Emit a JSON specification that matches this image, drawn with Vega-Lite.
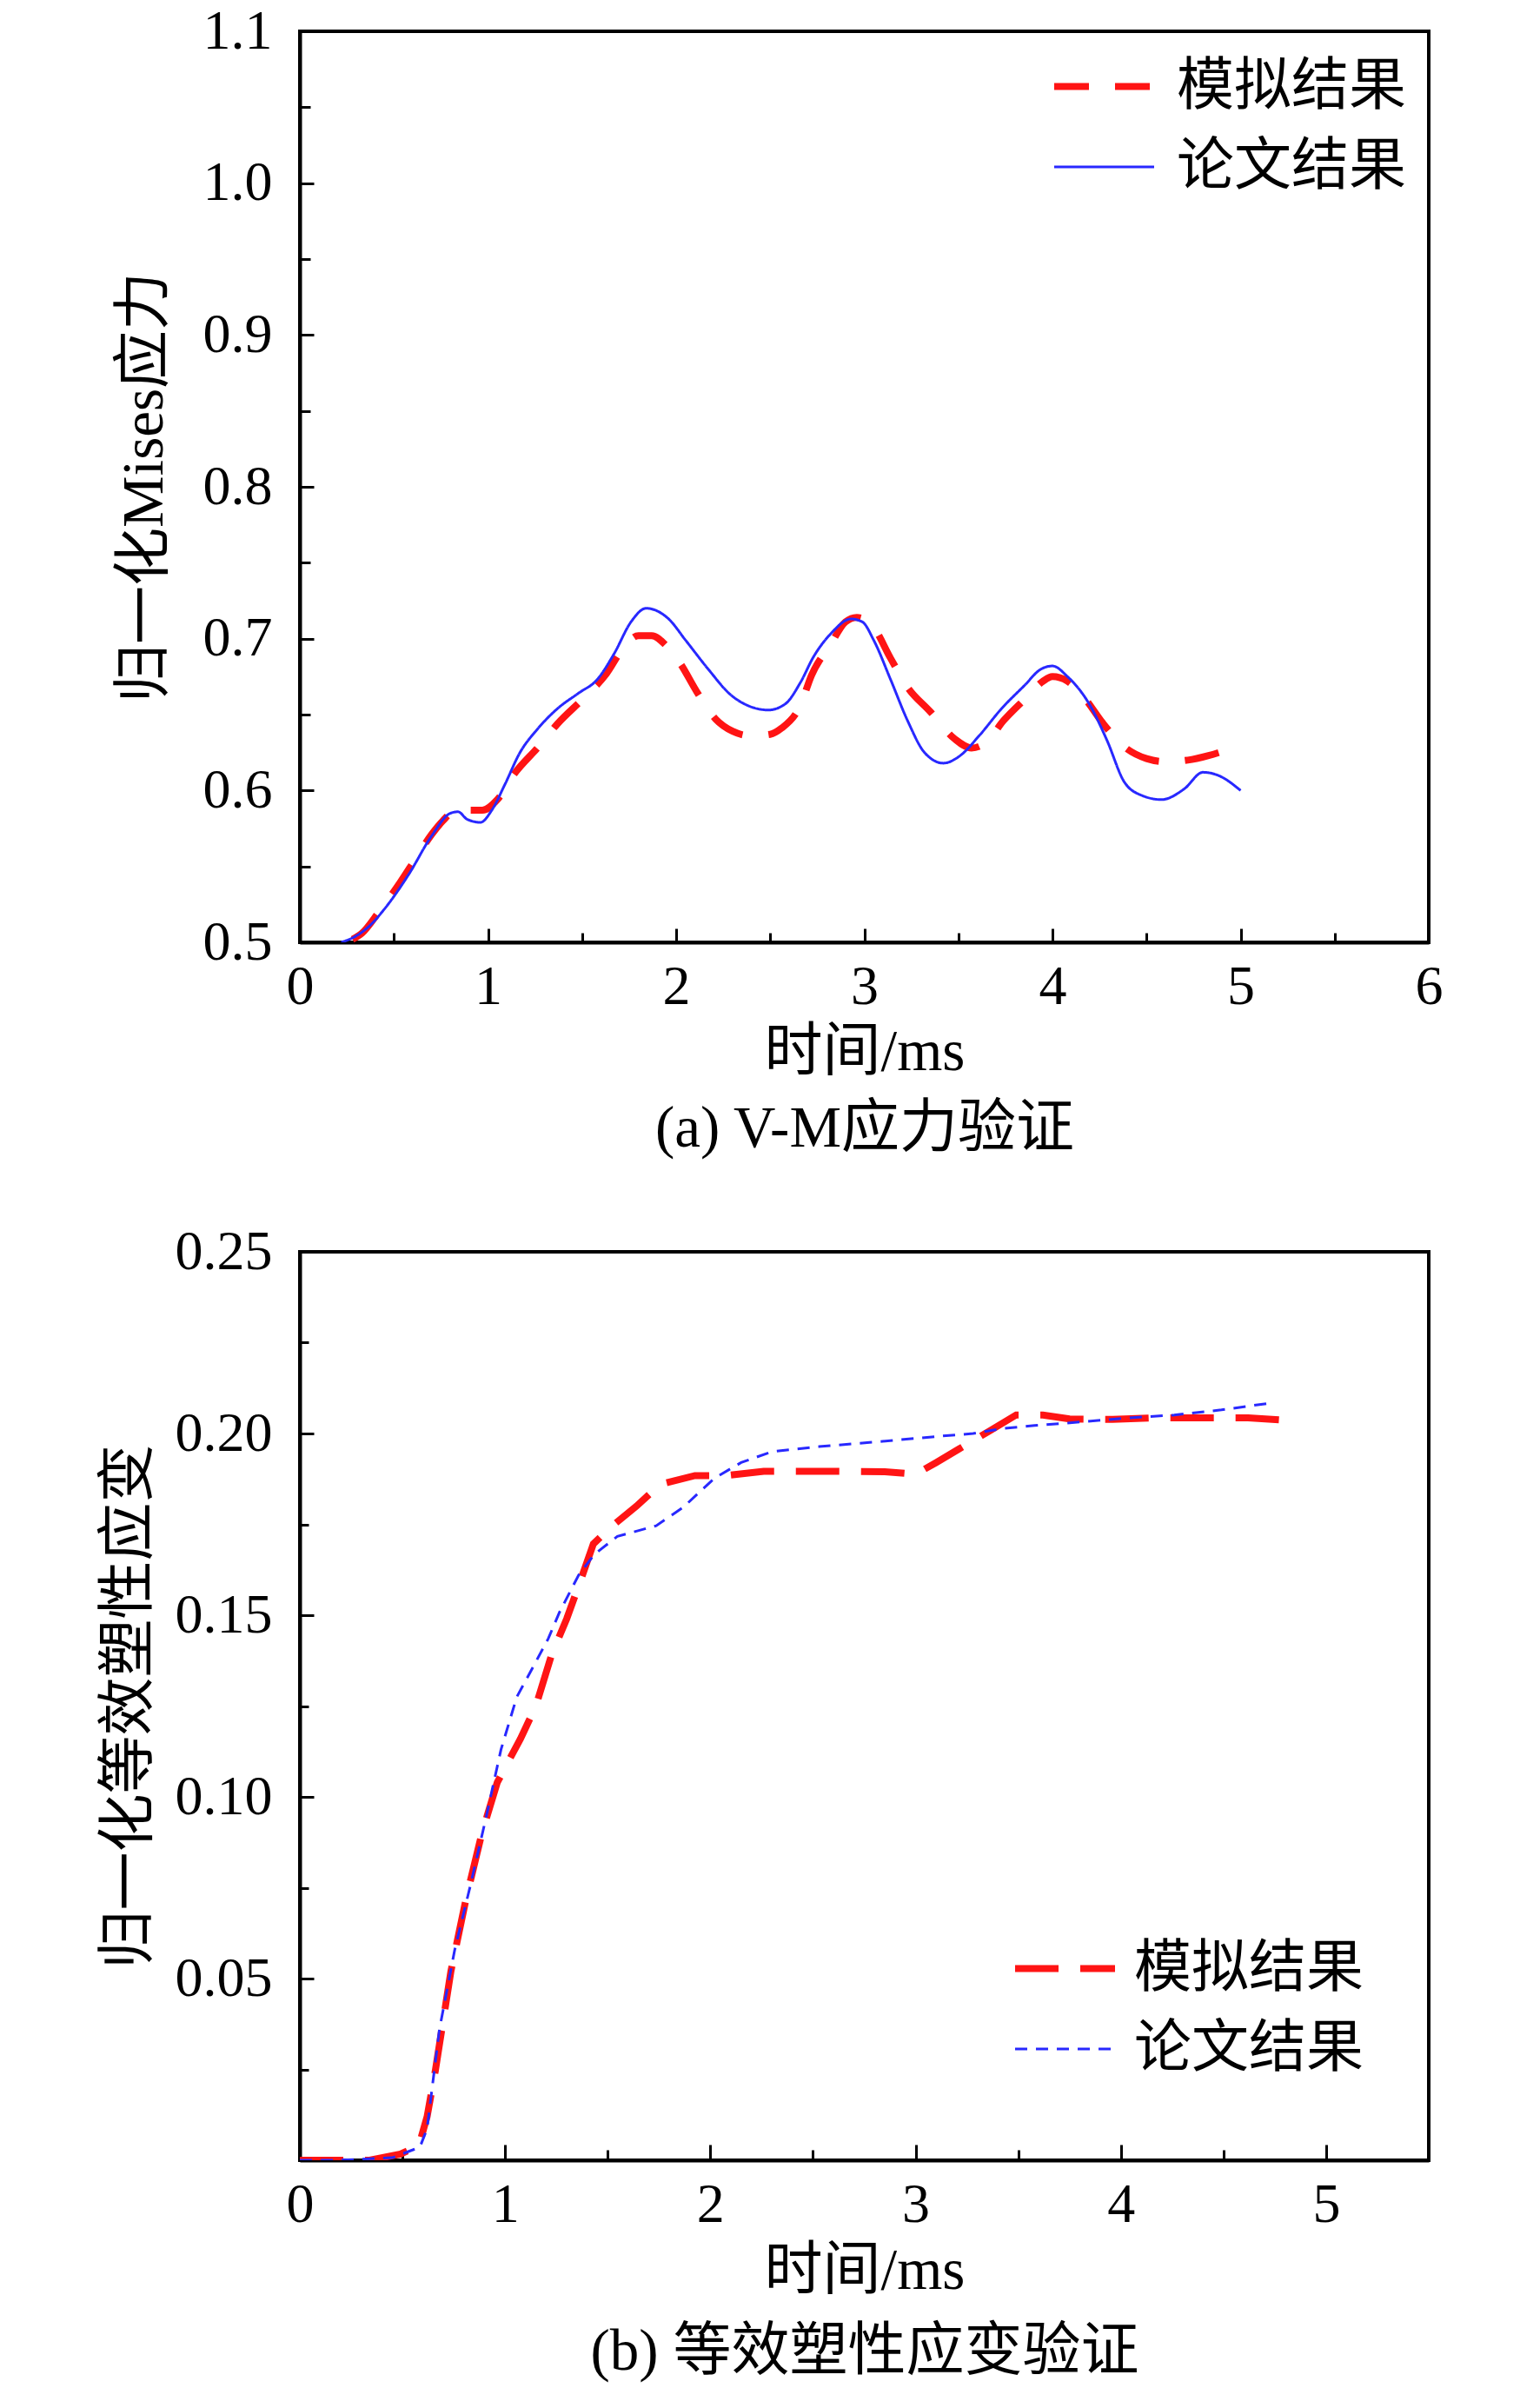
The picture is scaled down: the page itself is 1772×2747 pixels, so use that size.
{
  "$schema": "https://vega.github.io/schema/vega-lite/v6.json",
  "background": "white",
  "padding": {"left": 111, "top": 2, "right": 10, "bottom": 5},
  "config": {
    "view": {"stroke": "black", "strokeWidth": 4},
    "axis": {
      "domainColor": "black", "domainWidth": 4, "tickColor": "black", "tickWidth": 3,
      "grid": false, "labelFont": "Liberation Serif", "labelFontSize": 64, "labelColor": "black",
      "titleFont": "Liberation Serif, Noto Sans CJK SC", "titleFontSize": 67, "titleFontWeight": "normal",
      "titleColor": "black", "labelFlush": false, "labelOverlap": false
    },
    "legend": {
      "orient": "none", "symbolType": "stroke", "symbolSize": 13225, "labelFont": "Liberation Serif, Noto Sans CJK SC",
      "labelFontSize": 66, "labelColor": "black", "labelLimit": 500, "padding": 0, "title": null
    }
  },
  "datasets": {
    "vm": [
      {"t":0.28,"v":0.502,"s":"模拟结果"},{"t":0.33,"v":0.506,"s":"模拟结果"},{"t":0.42,"v":0.52,"s":"模拟结果"},{"t":0.52,"v":0.537,"s":"模拟结果"},
      {"t":0.62,"v":0.556,"s":"模拟结果"},{"t":0.70,"v":0.571,"s":"模拟结果"},{"t":0.76,"v":0.58,"s":"模拟结果"},{"t":0.84,"v":0.588,"s":"模拟结果"},
      {"t":0.90,"v":0.587,"s":"模拟结果"},{"t":0.97,"v":0.587,"s":"模拟结果"},{"t":1.05,"v":0.594,"s":"模拟结果"},{"t":1.14,"v":0.611,"s":"模拟结果"},
      {"t":1.27,"v":0.629,"s":"模拟结果"},{"t":1.37,"v":0.644,"s":"模拟结果"},{"t":1.51,"v":0.661,"s":"模拟结果"},{"t":1.63,"v":0.677,"s":"模拟结果"},
      {"t":1.72,"v":0.694,"s":"模拟结果"},{"t":1.80,"v":0.702,"s":"模拟结果"},{"t":1.87,"v":0.702,"s":"模拟结果"},{"t":1.95,"v":0.695,"s":"模拟结果"},
      {"t":2.02,"v":0.684,"s":"模拟结果"},{"t":2.11,"v":0.665,"s":"模拟结果"},{"t":2.21,"v":0.647,"s":"模拟结果"},{"t":2.30,"v":0.639,"s":"模拟结果"},
      {"t":2.40,"v":0.636,"s":"模拟结果"},{"t":2.50,"v":0.637,"s":"模拟结果"},{"t":2.56,"v":0.641,"s":"模拟结果"},{"t":2.66,"v":0.656,"s":"模拟结果"},
      {"t":2.72,"v":0.676,"s":"模拟结果"},{"t":2.82,"v":0.696,"s":"模拟结果"},{"t":2.90,"v":0.711,"s":"模拟结果"},{"t":2.96,"v":0.714,"s":"模拟结果"},
      {"t":3.04,"v":0.709,"s":"模拟结果"},{"t":3.14,"v":0.687,"s":"模拟结果"},{"t":3.23,"v":0.668,"s":"模拟结果"},{"t":3.35,"v":0.652,"s":"模拟结果"},
      {"t":3.48,"v":0.634,"s":"模拟结果"},{"t":3.57,"v":0.628,"s":"模拟结果"},{"t":3.65,"v":0.632,"s":"模拟结果"},{"t":3.74,"v":0.646,"s":"模拟结果"},
      {"t":3.86,"v":0.661,"s":"模拟结果"},{"t":3.95,"v":0.672,"s":"模拟结果"},{"t":4.00,"v":0.675,"s":"模拟结果"},{"t":4.08,"v":0.672,"s":"模拟结果"},
      {"t":4.17,"v":0.661,"s":"模拟结果"},{"t":4.27,"v":0.644,"s":"模拟结果"},{"t":4.37,"v":0.630,"s":"模拟结果"},{"t":4.50,"v":0.621,"s":"模拟结果"},
      {"t":4.60,"v":0.619,"s":"模拟结果"},{"t":4.72,"v":0.620,"s":"模拟结果"},{"t":4.83,"v":0.623,"s":"模拟结果"},{"t":4.91,"v":0.626,"s":"模拟结果"},
      {"t":0.22,"v":0.500,"s":"论文结果"},{"t":0.31,"v":0.505,"s":"论文结果"},{"t":0.38,"v":0.512,"s":"论文结果"},{"t":0.45,"v":0.522,"s":"论文结果"},
      {"t":0.58,"v":0.545,"s":"论文结果"},{"t":0.70,"v":0.570,"s":"论文结果"},{"t":0.80,"v":0.585,"s":"论文结果"},{"t":0.84,"v":0.586,"s":"论文结果"},
      {"t":0.89,"v":0.581,"s":"论文结果"},{"t":0.96,"v":0.579,"s":"论文结果"},{"t":1.02,"v":0.587,"s":"论文结果"},{"t":1.09,"v":0.604,"s":"论文结果"},
      {"t":1.17,"v":0.625,"s":"论文结果"},{"t":1.26,"v":0.640,"s":"论文结果"},{"t":1.37,"v":0.654,"s":"论文结果"},{"t":1.48,"v":0.664,"s":"论文结果"},
      {"t":1.58,"v":0.673,"s":"论文结果"},{"t":1.67,"v":0.690,"s":"论文结果"},{"t":1.76,"v":0.711,"s":"论文结果"},{"t":1.84,"v":0.720,"s":"论文结果"},
      {"t":1.96,"v":0.713,"s":"论文结果"},{"t":2.05,"v":0.699,"s":"论文结果"},{"t":2.17,"v":0.680,"s":"论文结果"},{"t":2.29,"v":0.663,"s":"论文结果"},
      {"t":2.38,"v":0.656,"s":"论文结果"},{"t":2.49,"v":0.653,"s":"论文结果"},{"t":2.58,"v":0.657,"s":"论文结果"},{"t":2.66,"v":0.671,"s":"论文结果"},
      {"t":2.73,"v":0.688,"s":"论文结果"},{"t":2.82,"v":0.703,"s":"论文结果"},{"t":2.93,"v":0.713,"s":"论文结果"},{"t":2.99,"v":0.711,"s":"论文结果"},
      {"t":3.05,"v":0.699,"s":"论文结果"},{"t":3.14,"v":0.673,"s":"论文结果"},{"t":3.23,"v":0.646,"s":"论文结果"},{"t":3.32,"v":0.625,"s":"论文结果"},
      {"t":3.42,"v":0.618,"s":"论文结果"},{"t":3.51,"v":0.623,"s":"论文结果"},{"t":3.61,"v":0.636,"s":"论文结果"},{"t":3.73,"v":0.654,"s":"论文结果"},
      {"t":3.85,"v":0.669,"s":"论文结果"},{"t":3.94,"v":0.680,"s":"论文结果"},{"t":4.00,"v":0.682,"s":"论文结果"},{"t":4.08,"v":0.675,"s":"论文结果"},
      {"t":4.20,"v":0.656,"s":"论文结果"},{"t":4.29,"v":0.633,"s":"论文结果"},{"t":4.38,"v":0.606,"s":"论文结果"},{"t":4.47,"v":0.597,"s":"论文结果"},
      {"t":4.58,"v":0.594,"s":"论文结果"},{"t":4.70,"v":0.601,"s":"论文结果"},{"t":4.80,"v":0.612,"s":"论文结果"},{"t":4.88,"v":0.610,"s":"论文结果"},
      {"t":5.00,"v":0.600,"s":"论文结果"}
    ],
    "peeq": [
      {"t":0.0,"v":0.0,"s":"模拟结果"},{"t":0.34,"v":0.0,"s":"模拟结果"},{"t":0.49,"v":0.0017,"s":"模拟结果"},{"t":0.58,"v":0.004,"s":"模拟结果"},
      {"t":0.62,"v":0.012,"s":"模拟结果"},{"t":0.66,"v":0.0246,"s":"模拟结果"},{"t":0.736,"v":0.052,"s":"模拟结果"},{"t":0.81,"v":0.072,"s":"模拟结果"},
      {"t":0.887,"v":0.09,"s":"模拟结果"},{"t":0.962,"v":0.104,"s":"模拟结果"},{"t":1.075,"v":0.116,"s":"模拟结果"},{"t":1.15,"v":0.125,"s":"模拟结果"},
      {"t":1.226,"v":0.139,"s":"模拟结果"},{"t":1.30,"v":0.149,"s":"模拟结果"},{"t":1.358,"v":0.158,"s":"模拟结果"},{"t":1.43,"v":0.1696,"s":"模拟结果"},
      {"t":1.51,"v":0.174,"s":"模拟结果"},{"t":1.64,"v":0.180,"s":"模拟结果"},{"t":1.755,"v":0.186,"s":"模拟结果"},{"t":1.925,"v":0.1884,"s":"模拟结果"},
      {"t":2.075,"v":0.1884,"s":"模拟结果"},{"t":2.26,"v":0.1896,"s":"模拟结果"},{"t":2.57,"v":0.1896,"s":"模拟结果"},{"t":2.85,"v":0.1895,"s":"模拟结果"},
      {"t":3.0,"v":0.1888,"s":"模拟结果"},{"t":3.1,"v":0.192,"s":"模拟结果"},{"t":3.21,"v":0.1957,"s":"模拟结果"},{"t":3.36,"v":0.2007,"s":"模拟结果"},
      {"t":3.49,"v":0.2051,"s":"模拟结果"},{"t":3.62,"v":0.2051,"s":"模拟结果"},{"t":3.75,"v":0.2040,"s":"模拟结果"},{"t":3.96,"v":0.2039,"s":"模拟结果"},
      {"t":4.15,"v":0.2043,"s":"模拟结果"},{"t":4.47,"v":0.2043,"s":"模拟结果"},{"t":4.62,"v":0.2043,"s":"模拟结果"},{"t":4.81,"v":0.2036,"s":"模拟结果"},
      {"t":0.0,"v":0.0,"s":"论文结果"},{"t":0.19,"v":0.0,"s":"论文结果"},{"t":0.45,"v":0.0007,"s":"论文结果"},{"t":0.585,"v":0.0036,"s":"论文结果"},
      {"t":0.62,"v":0.0087,"s":"论文结果"},{"t":0.68,"v":0.036,"s":"论文结果"},{"t":0.755,"v":0.058,"s":"论文结果"},{"t":0.83,"v":0.0754,"s":"论文结果"},
      {"t":0.906,"v":0.094,"s":"论文结果"},{"t":0.98,"v":0.113,"s":"论文结果"},{"t":1.057,"v":0.1275,"s":"论文结果"},{"t":1.113,"v":0.1333,"s":"论文结果"},
      {"t":1.21,"v":0.1435,"s":"论文结果"},{"t":1.264,"v":0.1507,"s":"论文结果"},{"t":1.358,"v":0.161,"s":"论文结果"},{"t":1.434,"v":0.1667,"s":"论文结果"},
      {"t":1.547,"v":0.1717,"s":"论文结果"},{"t":1.736,"v":0.1746,"s":"论文结果"},{"t":1.868,"v":0.1797,"s":"论文结果"},{"t":2.02,"v":0.1877,"s":"论文结果"},
      {"t":2.15,"v":0.192,"s":"论文结果"},{"t":2.30,"v":0.195,"s":"论文结果"},{"t":2.53,"v":0.1964,"s":"论文结果"},{"t":2.83,"v":0.1978,"s":"论文结果"},
      {"t":3.13,"v":0.1993,"s":"论文结果"},{"t":3.28,"v":0.2,"s":"论文结果"},{"t":3.43,"v":0.2014,"s":"论文结果"},{"t":3.58,"v":0.2022,"s":"论文结果"},
      {"t":3.81,"v":0.2032,"s":"论文结果"},{"t":4.04,"v":0.2043,"s":"论文结果"},{"t":4.26,"v":0.2051,"s":"论文结果"},{"t":4.49,"v":0.2065,"s":"论文结果"},
      {"t":4.72,"v":0.2083,"s":"论文结果"}
    ]
  },
  "spacing": 356,
  "bounds": "flush",
  "resolve": {
    "scale": {"x": "independent", "y": "independent", "color": "independent", "strokeDash": "independent", "strokeWidth": "independent"},
    "legend": {"color": "independent", "strokeDash": "independent", "strokeWidth": "independent"}
  },
  "vconcat": [
    {
      "width": 1299, "height": 1048,
      "data": {"name": "vm"},
      "mark": {"type": "line", "interpolate": "monotone", "clip": true},
      "encoding": {
        "x": {
          "field": "t", "type": "quantitative",
          "scale": {"domain": [0, 6], "nice": false, "zero": false},
          "axis": {
            "values": [0, 0.5, 1, 1.5, 2, 2.5, 3, 3.5, 4, 4.5, 5, 5.5, 6],
            "labelExpr": "datum.value % 1 === 0 ? format(datum.value, 'd') : ''",
            "tickSize": {"condition": {"test": "datum.value % 1 === 0", "value": -16}, "value": -11},
            "labelPadding": 35,
            "title": ["时间/ms", "(a) V-M应力验证"],
            "titleLineHeight": 88, "titleX": 649.5, "titleY": 146, "titleAlign": "center", "titleBaseline": "alphabetic"
          }
        },
        "y": {
          "field": "v", "type": "quantitative",
          "scale": {"domain": [0.5, 1.1], "nice": false, "zero": false},
          "axis": {
            "values": [0.5, 0.55, 0.6, 0.65, 0.7, 0.75, 0.8, 0.85, 0.9, 0.95, 1.0, 1.05, 1.1],
            "labelExpr": "abs(datum.value*10 - round(datum.value*10)) < 0.001 ? format(datum.value, '.1f') : ''",
            "tickSize": {"condition": {"test": "abs(datum.value*10 - round(datum.value*10)) < 0.001", "value": -16}, "value": -12},
            "labelPadding": 48,
            "title": "归一化Mises应力",
            "titleX": -179, "titleY": 524, "titleAngle": -90, "titleAlign": "center", "titleBaseline": "middle"
          }
        },
        "color": {
          "field": "s", "type": "nominal",
          "scale": {"domain": ["模拟结果", "论文结果"], "range": ["#ff1414", "#2828ff"]},
          "legend": {"legendX": 864, "legendY": 2, "rowPadding": -19, "labelOffset": 22}
        },
        "strokeDash": {
          "field": "s", "type": "nominal",
          "scale": {"domain": ["模拟结果", "论文结果"], "range": [[40, 30], [1, 0]]},
          "legend": {"legendX": 864, "legendY": 2, "rowPadding": -19, "labelOffset": 22}
        },
        "strokeWidth": {
          "field": "s", "type": "nominal",
          "scale": {"domain": ["模拟结果", "论文结果"], "range": [8, 3]},
          "legend": {"legendX": 864, "legendY": 2, "rowPadding": -19, "labelOffset": 22}
        }
      }
    },
    {
      "width": 1299, "height": 1045,
      "data": {"name": "peeq"},
      "mark": {"type": "line", "interpolate": "linear", "clip": true},
      "encoding": {
        "x": {
          "field": "t", "type": "quantitative",
          "scale": {"domain": [0, 5.5], "nice": false, "zero": false},
          "axis": {
            "values": [0, 0.5, 1, 1.5, 2, 2.5, 3, 3.5, 4, 4.5, 5, 5.5],
            "labelExpr": "datum.value % 1 === 0 ? format(datum.value, 'd') : ''",
            "tickSize": {"condition": {"test": "datum.value % 1 === 0", "value": -18}, "value": -12},
            "labelPadding": 37,
            "title": ["时间/ms", "(b) 等效塑性应变验证"],
            "titleLineHeight": 93, "titleX": 649.5, "titleY": 147, "titleAlign": "center", "titleBaseline": "alphabetic"
          }
        },
        "y": {
          "field": "v", "type": "quantitative",
          "scale": {"domain": [0, 0.25], "nice": false, "zero": false},
          "axis": {
            "values": [0, 0.025, 0.05, 0.075, 0.1, 0.125, 0.15, 0.175, 0.2, 0.225, 0.25],
            "labelExpr": "datum.value > 0.01 && abs(datum.value*20 - round(datum.value*20)) < 0.001 ? format(datum.value, '.2f') : ''",
            "tickSize": {"condition": {"test": "abs(datum.value*20 - round(datum.value*20)) < 0.001", "value": -16}, "value": -10},
            "labelPadding": 48,
            "title": "归一化等效塑性应变",
            "titleX": -197, "titleY": 522.5, "titleAngle": -90, "titleAlign": "center", "titleBaseline": "middle"
          }
        },
        "color": {
          "field": "s", "type": "nominal",
          "scale": {"domain": ["模拟结果", "论文结果"], "range": ["#ff1414", "#2828ff"]},
          "legend": {"legendX": 819, "legendY": 763, "rowPadding": -44, "labelOffset": 18}
        },
        "strokeDash": {
          "field": "s", "type": "nominal",
          "scale": {"domain": ["模拟结果", "论文结果"], "range": [[50, 25], [14, 10]]},
          "legend": {"legendX": 819, "legendY": 763, "rowPadding": -44, "labelOffset": 18}
        },
        "strokeWidth": {
          "field": "s", "type": "nominal",
          "scale": {"domain": ["模拟结果", "论文结果"], "range": [8, 3]},
          "legend": {"legendX": 819, "legendY": 763, "rowPadding": -44, "labelOffset": 18}
        }
      }
    }
  ]
}
